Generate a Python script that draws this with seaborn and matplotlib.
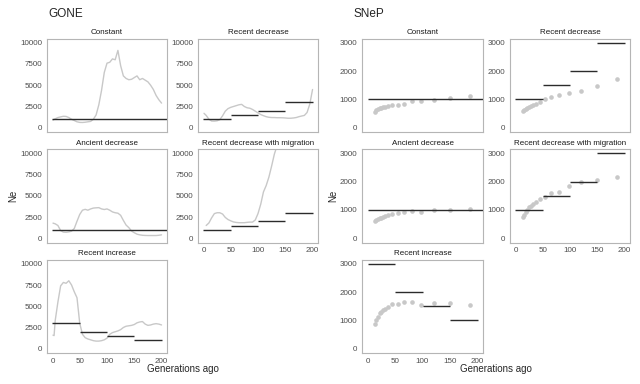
import numpy as np
import pandas as pd
import matplotlib
matplotlib.use("Agg")
import matplotlib.pyplot as plt
import seaborn as sns

# ---------------------------------------------------------------------#
# DATA
# ---------------------------------------------------------------------#
scenarios = ["Constant", "Recent decrease", "Ancient decrease",
             "Recent decrease with migration", "Recent increase"]

# GONE estimates (generation, Ne)
gone_gen = [1, 5, 10, 15, 20, 25, 30, 35, 40, 45, 50, 55, 60, 65, 70, 75, 80,
            85, 90, 95, 100, 105, 110, 115, 120, 125, 130, 135, 140, 145, 150,
            155, 160, 165, 170, 175, 180, 185, 190, 195, 200]
gone_constant = [900, 1050, 1200, 1280, 1350, 1330, 1200, 1000, 850, 700, 630,
                 620, 650, 700, 750, 1000, 1500, 2700, 4400, 6500, 7600, 7700,
                 8100, 8000, 9100, 7300, 6100, 5800, 5650, 5700, 5900, 6100,
                 5650, 5800, 5600, 5400, 5000, 4500, 3800, 3300, 2900]
gone_recent_decrease = [1700, 1450, 1000, 790, 780, 820, 950, 1400, 1950, 2250,
                        2400, 2500, 2600, 2700, 2750, 2500, 2350, 2300, 2150,
                        1950, 1750, 1550, 1420, 1300, 1230, 1200, 1200, 1180,
                        1180, 1170, 1150, 1120, 1120, 1150, 1200, 1300, 1380,
                        1450, 1800, 2800, 4500]
gone_ancient_decrease = [1780, 1700, 1500, 900, 720, 700, 750, 830, 1150, 2000,
                         2800, 3300, 3400, 3300, 3450, 3550, 3580, 3600, 3450,
                         3380, 3450, 3300, 3100, 3000, 2950, 2700, 2100, 1550,
                         1250, 850, 650, 480, 400, 350, 330, 320, 320, 320, 320,
                         350, 400]
gone_migration_gen = [5, 10, 15, 20, 25, 30, 35, 40, 45, 50, 55, 60, 65, 70, 75,
                      80, 85, 90, 95, 100, 105, 110, 115, 120, 125, 130, 135, 140]
gone_migration = [1500, 1800, 2400, 2900, 3000, 3000, 2850, 2450, 2200, 2050,
                  1920, 1860, 1830, 1830, 1830, 1870, 1900, 1900, 2150, 2900,
                  4000, 5450, 6200, 7200, 8500, 9900, 10900, 11800]
gone_increase_gen = [1, 3, 5, 10, 15, 20, 25, 30, 35, 40, 45, 50, 55, 60, 65,
                     70, 75, 80, 85, 90, 95, 100, 105, 110, 115, 120, 125, 130,
                     135, 140, 145, 150, 155, 160, 165, 170, 175, 180, 185, 190,
                     195, 200]
gone_recent_increase = [1600, 1550, 3300, 5500, 7400, 7800, 7700, 8000, 7500,
                        6700, 6000, 3000, 1700, 1300, 1150, 1050, 950, 900, 900,
                        950, 1050, 1250, 1700, 1900, 2000, 2100, 2250, 2500,
                        2650, 2700, 2750, 2850, 3050, 3150, 3200, 2900, 2750,
                        2800, 2900, 2950, 2900, 2800]

# SNeP estimates (generation, Ne)
snep_gen = [13, 16, 19, 22, 25, 28, 32, 38, 45, 55, 66, 80, 98, 121, 150, 187]
snep_constant = [560, 610, 650, 680, 710, 730, 750, 760, 790, 810, 840, 930,
                 960, 990, 1050, 1130]
snep_recent_decrease = [590, 630, 660, 690, 720, 770, 810, 840, 920, 1020,
                        1080, 1140, 1220, 1310, 1490, 1730]
snep_ancient_decrease = [620, 650, 680, 700, 730, 760, 790, 820, 860, 900, 930,
                         950, 930, 990, 990, 1050]
snep_migration = [740, 830, 920, 980, 1090, 1150, 1210, 1280, 1390, 1470, 1600,
                  1640, 1840, 1980, 2040, 2160]
snep_recent_increase = [890, 1010, 1130, 1270, 1280, 1380, 1420, 1480, 1580,
                        1570, 1640, 1660, 1560, 1620, 1610, 1550]

# simulated (true) Ne: start gen, end gen, Ne
true_constant = [(0, 250, 1000)]
true_decrease = [(0, 50, 1000), (50, 100, 1500), (100, 150, 2000), (150, 200, 3000)]
true_increase = [(0, 50, 3000), (50, 100, 2000), (100, 150, 1500), (150, 200, 1000)]

gone = {
    "Constant": (gone_gen, gone_constant),
    "Recent decrease": (gone_gen, gone_recent_decrease),
    "Ancient decrease": (gone_gen, gone_ancient_decrease),
    "Recent decrease with migration": (gone_migration_gen, gone_migration),
    "Recent increase": (gone_increase_gen, gone_recent_increase),
}
snep = {
    "Constant": snep_constant,
    "Recent decrease": snep_recent_decrease,
    "Ancient decrease": snep_ancient_decrease,
    "Recent decrease with migration": snep_migration,
    "Recent increase": snep_recent_increase,
}
truth = {
    "Constant": true_constant,
    "Recent decrease": true_decrease,
    "Ancient decrease": true_constant,
    "Recent decrease with migration": true_decrease,
    "Recent increase": true_increase,
}

# ---------------------------------------------------------------------#
# PLOT
# ---------------------------------------------------------------------#
sns.set_theme(style="white")
plt.rcParams["font.family"] = ["Liberation Sans", "DejaVu Sans"]

W, H = 640, 384
fig = plt.figure(figsize=(W / 100, H / 100), dpi=100)

EST_COL = "#c8c8c8"
TRUE_COL = "#2b2b2b"
TICK_COL = "#4d4d4d"


def add_panel(left, top, width, height):
    return fig.add_axes([left / W, 1 - (top + height) / H, width / W, height / H])


def style(ax, name, show_x, yticks, ylim):
    ax.set_xlim(-10, 210)
    ax.set_ylim(*ylim)
    ax.set_yticks(yticks)
    ax.set_xticks([0, 50, 100, 150, 200])
    ax.set_xlabel("")
    ax.set_ylabel("")
    ax.set_title(name, fontsize=5.8, color="#1a1a1a", pad=3)
    for s in ax.spines.values():
        s.set_color("#b5b5b5")
        s.set_linewidth(0.8)
    ax.tick_params(axis="both", length=2, width=0.6, color=TICK_COL,
                   labelsize=5.8, labelcolor=TICK_COL, pad=1.5)
    if not show_x:
        ax.tick_params(axis="x", bottom=False, labelbottom=False)


def draw_truth(ax, name):
    segs = pd.DataFrame(truth[name], columns=["start", "end", "Ne"])
    ax.hlines(segs["Ne"], segs["start"], segs["end"], color=TRUE_COL, lw=1.0)


row_top = [38.5, 149, 259.5]
row_h = 93.5
cols = {"GONE": [(47, 120), (198, 120)], "SNeP": [(362, 121), (510, 120)]}
bottom_panels = {"Recent decrease with migration", "Recent increase"}

for i, name in enumerate(scenarios):
    r, c = divmod(i, 2)

    # GONE
    x0, w = cols["GONE"][c]
    ax = add_panel(x0, row_top[r], w, row_h)
    gx, gy = gone[name]
    df = pd.DataFrame({"gen": gx, "Ne": gy})
    sns.lineplot(data=df, x="gen", y="Ne", ax=ax, color=EST_COL, lw=1.0,
                 estimator=None, sort=False)
    draw_truth(ax, name)
    style(ax, name, name in bottom_panels, [0, 2500, 5000, 7500, 10000],
          (-500, 10500))

    # SNeP
    x0, w = cols["SNeP"][c]
    ax = add_panel(x0, row_top[r], w, row_h)
    df = pd.DataFrame({"gen": snep_gen, "Ne": snep[name]})
    sns.scatterplot(data=df, x="gen", y="Ne", ax=ax, color=EST_COL, s=11,
                    linewidth=0)
    draw_truth(ax, name)
    style(ax, name, name in bottom_panels, [0, 1000, 2000, 3000], (-150, 3150))

# group titles and axis titles
fig.text(48 / W, 1 - 14 / H, "GONE", fontsize=8.5, va="center", ha="left")
fig.text(353 / W, 1 - 14 / H, "SNeP", fontsize=8.5, va="center", ha="left")
for xc in (13.5, 333.5):
    fig.text(xc / W, 1 - 196 / H, "Ne", fontsize=7, rotation=90,
             va="center", ha="center")
for xc in (182.5, 496):
    fig.text(xc / W, 1 - 369 / H, "Generations ago", fontsize=7,
             va="center", ha="center")

fig.savefig("out.png", dpi=100, facecolor="white")
